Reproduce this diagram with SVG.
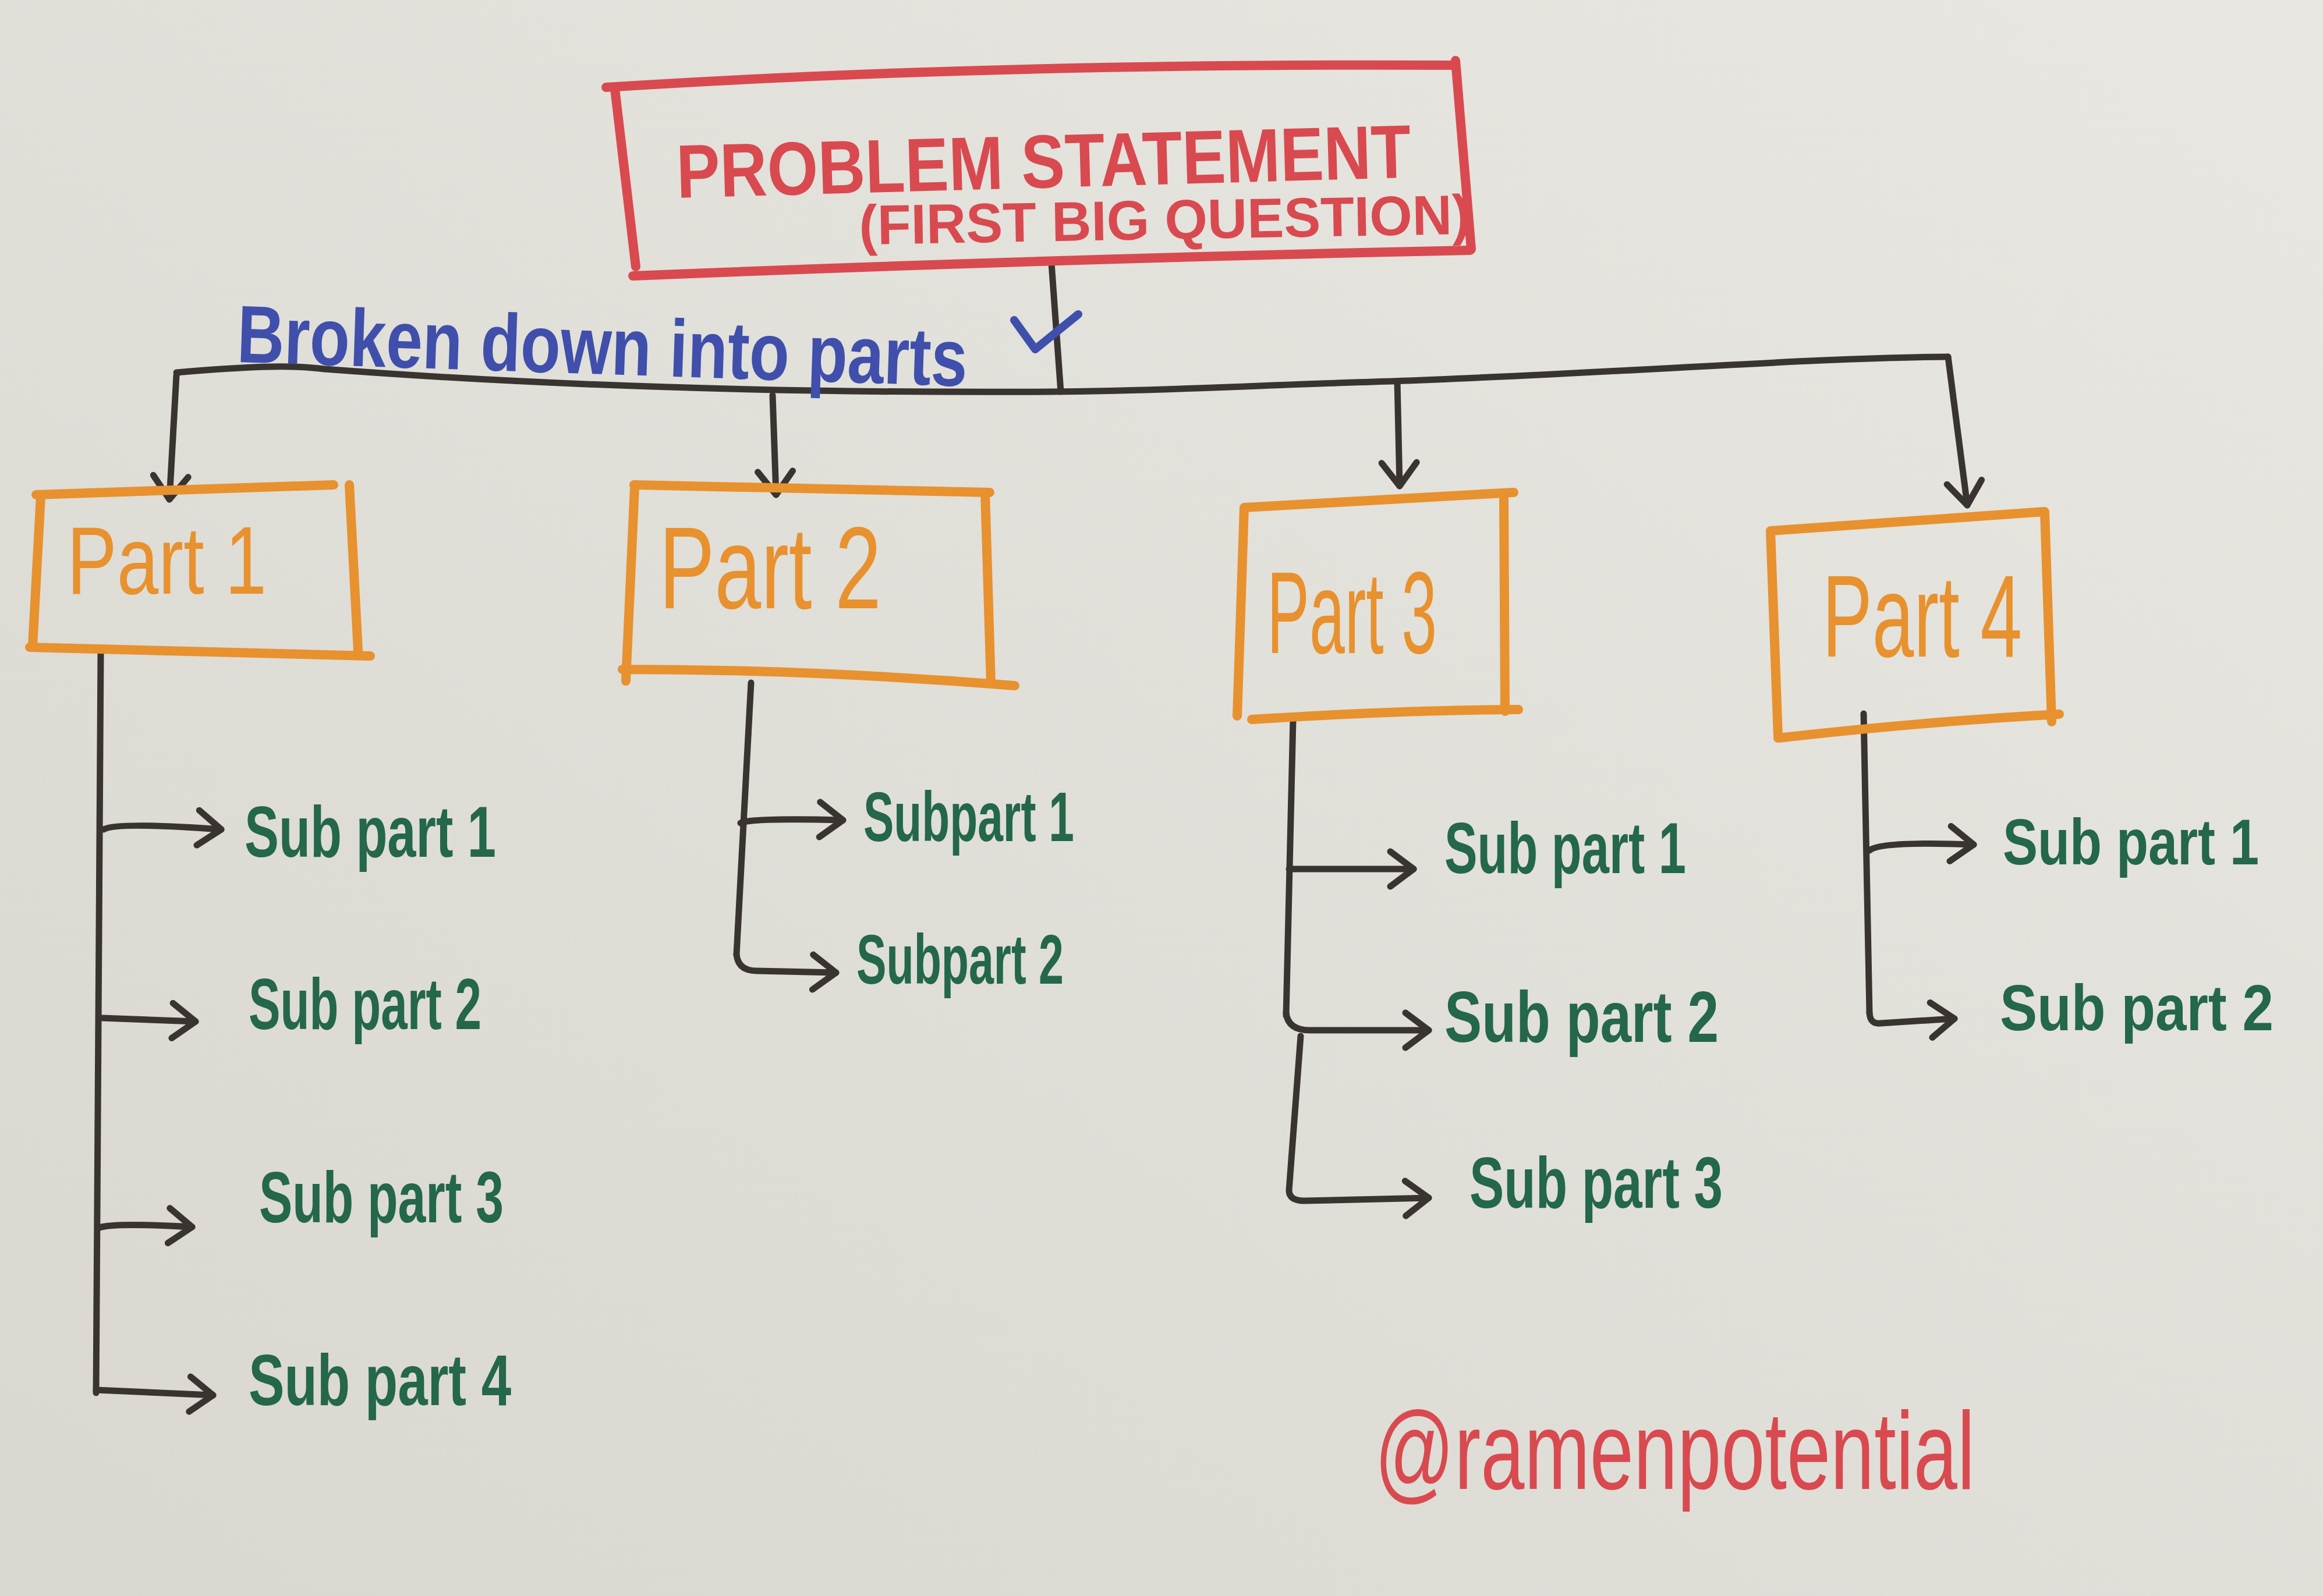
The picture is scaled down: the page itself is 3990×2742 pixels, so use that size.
<svg xmlns="http://www.w3.org/2000/svg" width="3990" height="2742" viewBox="0 0 3990 2742">
<defs>
<linearGradient id="paper" x1="1" y1="0" x2="0" y2="1">
<stop offset="0" stop-color="#e8e7e1"/>
<stop offset="1" stop-color="#d9d7d0"/>
</linearGradient>
<marker id="ah" markerUnits="userSpaceOnUse" viewBox="0 -40 60 80" refX="50" refY="0" markerWidth="60" markerHeight="80" orient="auto">
<path d="M10,-30 L50,0 L10,30" fill="none" stroke="#3a3431" stroke-width="11" stroke-linecap="round" stroke-linejoin="round"/>
</marker>
<style>
.line{fill:none;stroke:#3a3431;stroke-width:11;stroke-linecap:round;stroke-linejoin:round}
.arr{marker-end:url(#ah)}
.redbox{fill:none;stroke:#d84a4f;stroke-width:16;stroke-linecap:round;stroke-linejoin:round}
.orbox{fill:none;stroke:#e8912f;stroke-width:16;stroke-linecap:round;stroke-linejoin:round}
.t{font-family:"Liberation Sans Narrow","Liberation Sans",Arial,sans-serif;font-weight:bold}
.red{fill:#d84a4f}
.orange{fill:#e8912f;font-weight:normal}
.blue{fill:#3f4fab}
.green{fill:#24674a}
</style>
</defs>
<rect width="3990" height="2742" fill="url(#paper)"/>

<g id="connectors">
<path class="line" d="M1806,452 L1822,673"/>
<path class="line" d="M303,640 C420,630 500,626 557,634 C900,660 1300,676 1806,673 C2000,672 2200,660 2392,655 C2800,640 3100,615 3346,613"/>
<path class="line arr" d="M303,645 L291,858"/>
<path class="line arr" d="M1327,679 L1333,850"/>
<path class="line arr" d="M2400,656 L2404,835"/>
<path class="line arr" d="M3346,613 L3379,868"/>

<path class="line" d="M173,1121 L165,2393"/>
<path class="line arr" d="M178,1425 Q200,1412 380,1425"/>
<path class="line arr" d="M176,1749 L336,1755"/>
<path class="line arr" d="M168,2110 Q190,2100 330,2108"/>
<path class="line arr" d="M165,2388 L366,2397"/>

<path class="line" d="M1290,1173 L1265,1640"/>
<path class="line arr" d="M1272,1414 Q1290,1405 1448,1409"/>
<path class="line arr" d="M1265,1640 Q1268,1668 1300,1668 L1436,1671"/>

<path class="line" d="M2221,1236 L2209,1745"/>
<path class="line arr" d="M2214,1493 L2428,1493"/>
<path class="line arr" d="M2209,1740 Q2212,1770 2250,1770 L2454,1770"/>
<path class="line arr" d="M2234,1780 L2214,2045 Q2214,2063 2240,2063 L2454,2058"/>

<path class="line" d="M3201,1226 L3211,1740"/>
<path class="line arr" d="M3211,1461 Q3230,1445 3390,1451"/>
<path class="line arr" d="M3211,1740 Q3212,1760 3230,1758 L3357,1750"/>

<path d="M1742,550 L1778,600 L1852,540" fill="none" stroke="#3f4fab" stroke-width="14" stroke-linecap="round" stroke-linejoin="round"/>
<text class="t blue" x="406" y="622" font-size="140" textLength="1255" lengthAdjust="spacingAndGlyphs" transform="rotate(1.9 406 622)">Broken down into parts</text>
</g>

<g id="problem">
<path class="redbox" d="M1041,150 Q1700,108 2500,112"/>
<path class="redbox" d="M2500,104 L2527,428"/>
<path class="redbox" d="M2525,430 Q1800,445 1087,474"/>
<path class="redbox" d="M1056,152 L1092,458"/>
<text class="t red" x="1163" y="340" font-size="130" textLength="1262" lengthAdjust="spacingAndGlyphs" transform="rotate(-1.6 1163 340)">PROBLEM STATEMENT</text>
<text class="t red" x="1476" y="420" font-size="96" textLength="1050" lengthAdjust="spacingAndGlyphs" transform="rotate(-1 1476 420)">(FIRST BIG QUESTION)</text>
</g>

<g id="part1">
<path class="orbox" d="M62,850 L573,833 M70,852 L56,1110 M600,833 L615,1118 M51,1112 L636,1127"/>
<text class="t orange" x="115" y="1020" font-size="165" textLength="343" lengthAdjust="spacingAndGlyphs">Part 1</text>
</g>
<g id="part2">
<path class="orbox" d="M1089,833 L1700,846 M1090,838 L1075,1170 M1692,846 L1702,1175 M1069,1150 Q1400,1150 1743,1178"/>
<text class="t orange" x="1132" y="1045" font-size="200" textLength="382" lengthAdjust="spacingAndGlyphs">Part 2</text>
</g>
<g id="part3">
<path class="orbox" d="M2137,872 L2600,846 M2137,872 L2125,1230 M2583,850 L2585,1222 M2150,1236 Q2400,1220 2608,1219"/>
<text class="t orange" x="2176" y="1122" font-size="200" textLength="292" lengthAdjust="spacingAndGlyphs">Part 3</text>
</g>
<g id="part4">
<path class="orbox" d="M3041,912 L3512,879 M3041,912 L3054,1265 M3512,880 L3524,1240 M3054,1268 Q3300,1240 3537,1227"/>
<text class="t orange" x="3130" y="1128" font-size="200" textLength="343" lengthAdjust="spacingAndGlyphs">Part 4</text>
</g>

<g id="p1s1"><text class="t green" x="420" y="1472" font-size="125" textLength="432" lengthAdjust="spacingAndGlyphs">Sub part 1</text></g>
<g id="p1s2"><text class="t green" x="427" y="1768" font-size="125" textLength="400" lengthAdjust="spacingAndGlyphs">Sub part 2</text></g>
<g id="p1s3"><text class="t green" x="445" y="2100" font-size="125" textLength="420" lengthAdjust="spacingAndGlyphs">Sub part 3</text></g>
<g id="p1s4"><text class="t green" x="427" y="2414" font-size="125" textLength="451" lengthAdjust="spacingAndGlyphs">Sub part 4</text></g>

<g id="p2s1"><text class="t green" x="1483" y="1445" font-size="120" textLength="362" lengthAdjust="spacingAndGlyphs">Subpart 1</text></g>
<g id="p2s2"><text class="t green" x="1471" y="1690" font-size="120" textLength="356" lengthAdjust="spacingAndGlyphs">Subpart 2</text></g>

<g id="p3s1"><text class="t green" x="2481" y="1500" font-size="125" textLength="415" lengthAdjust="spacingAndGlyphs">Sub part 1</text></g>
<g id="p3s2"><text class="t green" x="2481" y="1790" font-size="125" textLength="471" lengthAdjust="spacingAndGlyphs">Sub part 2</text></g>
<g id="p3s3"><text class="t green" x="2524" y="2075" font-size="125" textLength="435" lengthAdjust="spacingAndGlyphs">Sub part 3</text></g>

<g id="p4s1"><text class="t green" x="3440" y="1485" font-size="112" textLength="440" lengthAdjust="spacingAndGlyphs">Sub part 1</text></g>
<g id="p4s2"><text class="t green" x="3435" y="1770" font-size="112" textLength="470" lengthAdjust="spacingAndGlyphs">Sub part 2</text></g>

<g id="signature"><text class="t red" x="2361" y="2558" font-size="190" textLength="1031" lengthAdjust="spacingAndGlyphs" style="font-weight:normal">@ramenpotential</text></g>
</svg>
